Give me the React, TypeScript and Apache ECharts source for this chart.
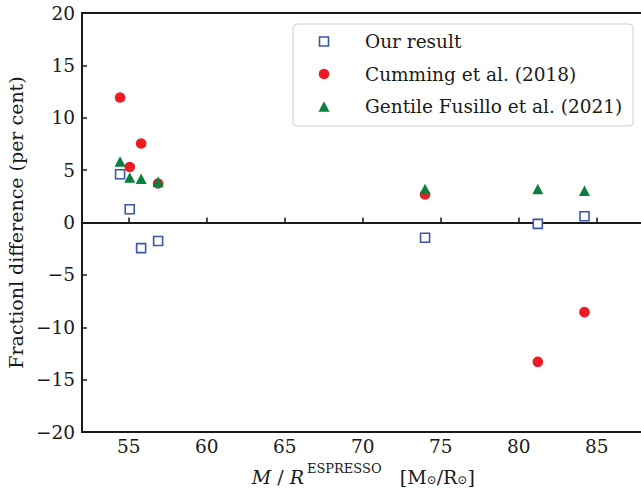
import React, { useEffect, useRef } from "react";
import * as echarts from "echarts";

const massRadius = [54.44, 55.06, 55.79, 56.88, 73.99, 81.22, 84.21];
const ourResult = [4.6, 1.27, -2.45, -1.77, -1.46, -0.13, 0.6];
const cumming2018 = [11.93, 5.3, 7.54, 3.72, 2.67, -13.3, -8.56];
const gentileFusillo2021 = [5.82, 4.3, 4.17, 3.88, 3.21, 3.21, 3.02];
const xTicks = [55, 60, 65, 70, 75, 80, 85];
const seriesNames = ["Our result", "Cumming et al. (2018)", "Gentile Fusillo et al. (2021)"];

const FONT = "DejaVu Serif";
const INK = "#1a1a1a";
const BLUE = "#3C55A5";
const RED = "#EC1C24";
const GREEN = "#0A7F3F";

const pairs = (ys: number[]) => massRadius.map((x, i) => [x, ys[i]]);

export default function App() {
  const ref = useRef<HTMLDivElement>(null);
  useEffect(() => {
    if (!ref.current) return;
    const chart = echarts.init(ref.current, undefined, { renderer: "svg" });
    const rowY = [41.5, 74, 106.5];
    const option: any = {
      animation: false,
      backgroundColor: "#ffffff",
      grid: {
        left: 82,
        top: 13,
        width: 561.6,
        height: 419,
        show: true,
        borderColor: INK,
        borderWidth: 2,
        containLabel: false,
        outerBoundsMode: "none",
      },
      xAxis: {
        type: "value",
        min: 52,
        max: 88,
        splitLine: { show: false },
        axisLine: { show: true, lineStyle: { color: INK, width: 2 } },
        axisTick: { show: true, inside: true, length: 5, lineStyle: { color: INK, width: 1.5 }, customValues: xTicks },
        axisLabel: {
          color: INK,
          fontFamily: FONT,
          fontSize: 18.5,
          margin: 5,
          customValues: xTicks,
        },
        name:
          "{it|M}{sl|/}{it|R}{sup|ESPRESSO}{n|   [M}{sub|⊙}{n|/R}{sub|⊙}{n|]}",
        nameLocation: "middle",
        nameGap: 30,
        nameTextStyle: {
          color: INK,
          fontFamily: FONT,
          fontSize: 19,
          rich: {
            it: { fontFamily: FONT, fontSize: 19, fontStyle: "italic", color: INK, verticalAlign: "bottom", lineHeight: 24, padding: [0, 1, 0, 1] },
            sl: { fontFamily: FONT, fontSize: 19, color: INK, verticalAlign: "bottom", lineHeight: 24, padding: [0, 5, 0, 5] },
            n: { fontFamily: FONT, fontSize: 19, color: INK, verticalAlign: "bottom", lineHeight: 24 },
            sup: { fontFamily: FONT, fontSize: 13, color: INK, verticalAlign: "top", lineHeight: 14, padding: [0, 0, 0, 2] },
            sub: { fontFamily: FONT, fontSize: 12, color: INK, verticalAlign: "bottom", lineHeight: 12 },
          },
        },
      },
      yAxis: {
        type: "value",
        min: -20,
        max: 20,
        interval: 5,
        splitLine: { show: false },
        axisLine: { show: true, lineStyle: { color: INK, width: 2 } },
        axisTick: { show: true, inside: true, length: 5, lineStyle: { color: INK, width: 1.5 } },
        axisLabel: {
          color: INK,
          fontFamily: FONT,
          fontSize: 18.5,
          margin: 7,
          formatter: (v: number) => (v < 0 ? "\u2212" + Math.abs(v) : String(v)),
        },
        name: "Fractionl difference (per cent)",
        nameLocation: "middle",
        nameGap: 54,
        nameTextStyle: { color: INK, fontFamily: FONT, fontSize: 19 },
      },
      series: [
        {
          name: seriesNames[0],
          type: "scatter",
          data: pairs(ourResult),
          symbol: "rect",
          symbolSize: 9,
          itemStyle: { color: "#ffffff", borderColor: BLUE, borderWidth: 1.6, opacity: 1 },
          z: 3,
          markLine: {
            silent: true,
            symbol: "none",
            label: { show: false },
            lineStyle: { color: INK, width: 2, type: "solid" },
            data: [{ yAxis: 0 }],
            z: 1,
          },
        },
        {
          name: seriesNames[1],
          type: "scatter",
          data: pairs(cumming2018),
          symbol: "circle",
          symbolSize: 10.6,
          itemStyle: { color: RED, opacity: 1 },
          z: 4,
        },
        {
          name: seriesNames[2],
          type: "scatter",
          data: pairs(gentileFusillo2021),
          symbol: "triangle",
          symbolSize: [11, 10.5],
          itemStyle: { color: GREEN, opacity: 1 },
          z: 5,
        },
      ],
      graphic: [
        {
          type: "rect",
          shape: { x: 293, y: 24, width: 340, height: 102, r: 4 },
          style: { fill: "rgba(255,255,255,0.85)", stroke: "#cfcfcf", lineWidth: 1 },
          z: 10,
        },
        {
          type: "rect",
          shape: { x: 319.5, y: rowY[0] - 4.5, width: 9, height: 9 },
          style: { fill: "#ffffff", stroke: BLUE, lineWidth: 1.6 },
          z: 11,
        },
        {
          type: "circle",
          shape: { cx: 324, cy: rowY[1], r: 5.3 },
          style: { fill: RED },
          z: 11,
        },
        {
          type: "polygon",
          shape: { points: [[324, rowY[2] - 5.25], [318.5, rowY[2] + 5.25], [329.5, rowY[2] + 5.25]] },
          style: { fill: GREEN },
          z: 11,
        },
        ...seriesNames.map((name, i) => ({
          type: "text",
          x: 365,
          y: rowY[i],
          style: {
            text: name,
            fill: INK,
            font: `18.5px "${FONT}"`,
            verticalAlign: "middle",
            align: "left",
          },
          z: 11,
        })),
      ],
    };
    chart.setOption(option);
    return () => chart.dispose();
  }, []);
  return (
    <div
      ref={ref}
      style={{ position: "fixed", left: 0, top: 0, width: 641, height: 494, background: "#fff" }}
    />
  );
}
